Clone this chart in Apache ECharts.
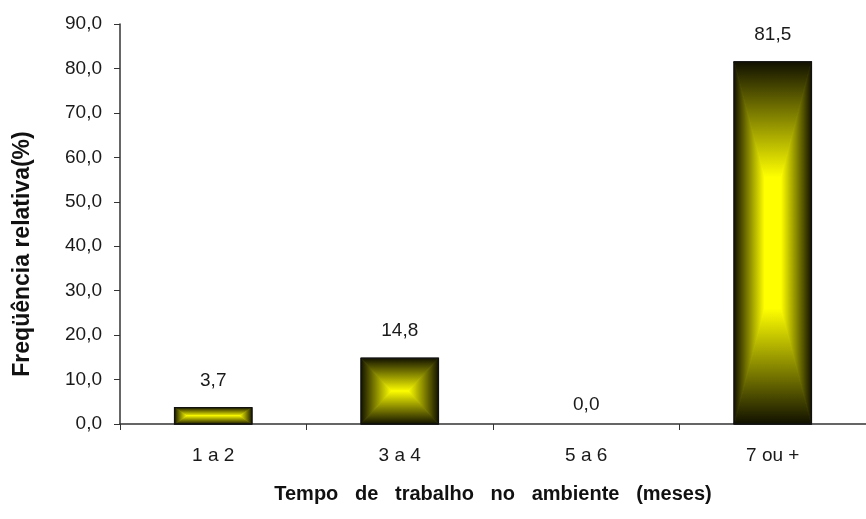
<!DOCTYPE html>
<html>
<head>
<meta charset="utf-8">
<script src="https://cdn.jsdelivr.net/npm/echarts@6/dist/echarts.min.js"></script>
<style>
  html, body { margin: 0; padding: 0; background: #fff; }
  #chart { width: 866px; height: 519px; }
</style>
</head>
<body>
<div id="chart"></div>
<script>
// Relative frequency by time working in the environment
const categories = ['1 a 2', '3 a 4', '5 a 6', '7 ou +'];
const frequencies = [3.7, 14.8, 0.0, 81.5];
const yTicks = { min: 0, max: 90, interval: 10 };

const EDGE = '#101000';
const CENTER = '#ffff00';

function fmt(v) {
  return v.toFixed(1).replace('.', ',');
}

function ramp(x, y, x2, y2) {
  return {
    type: 'linear', x: x, y: y, x2: x2, y2: y2,
    colorStops: [{ offset: 0, color: EDGE }, { offset: 1, color: CENTER }]
  };
}

function piece(points, fill) {
  return {
    type: 'polygon',
    shape: { points: points },
    style: { fill: fill, stroke: fill, lineWidth: 1 }
  };
}

// Bar shaded from dark edges towards a bright yellow core
function renderBar(params, api) {
  const idx = api.value(0);
  const val = api.value(1);
  const top = api.coord([idx, val]);
  const base = api.coord([idx, 0]);
  const band = api.size([1, 0])[0];
  const w = band * 0.415;
  const x0 = top[0] - w / 2, x1 = top[0] + w / 2;
  const y0 = top[1], y1 = base[1];
  const h = y1 - y0;
  const cx = top[0];
  const children = [];
  if (h > 0.5) {
    const r = Math.min(h / 2, 115);
    const s = Math.min(Math.max(h / 2, 12), 30);
    const ix0 = x0 + s, ix1 = x1 - s, iy0 = y0 + r, iy1 = y1 - r;
    children.push(
      { type: 'rect', shape: { x: ix0 - 1, y: iy0 - 1, width: ix1 - ix0 + 2, height: iy1 - iy0 + 2 },
        style: { fill: CENTER } },
      piece([[x0, y0], [x1, y0], [ix1, iy0], [ix0, iy0]], ramp(0, 0, 0, 1)),
      piece([[x0, y1], [x1, y1], [ix1, iy1], [ix0, iy1]], ramp(0, 1, 0, 0)),
      piece([[x0, y0], [ix0, iy0], [ix0, iy1], [x0, y1]], ramp(0, 0, 1, 0)),
      piece([[x1, y0], [ix1, iy0], [ix1, iy1], [x1, y1]], ramp(1, 0, 0, 0)),
      { type: 'rect', shape: { x: x0, y: y0, width: w, height: h },
        style: { fill: 'none', stroke: '#111', lineWidth: 1.3 } }
    );
  }
  children.push({
    type: 'text',
    style: {
      x: cx, y: y0 - (val > 0 ? 27 : 19),
      text: fmt(val),
      align: 'center', verticalAlign: 'middle',
      fill: '#1a1a1a', font: '19px "Liberation Sans", Arial, sans-serif'
    }
  });
  return { type: 'group', children: children };
}

const chart = echarts.init(document.getElementById('chart'), null, { renderer: 'canvas' });
chart.setOption({
  animation: false,
  backgroundColor: '#fff',
  textStyle: { fontFamily: '"Liberation Sans", Arial, sans-serif' },
  grid: { left: 120, top: 24, width: 752, height: 400 },
  xAxis: {
    type: 'category',
    data: categories,
    boundaryGap: true,
    name: 'Tempo   de   trabalho   no   ambiente   (meses)',
    nameLocation: 'middle',
    nameGap: 60,
    nameTextStyle: { fontSize: 20, fontWeight: 'bold', color: '#111' },
    axisLine: { lineStyle: { color: '#333', width: 1.5 } },
    axisTick: { show: true, alignWithLabel: false, length: 6, lineStyle: { color: '#333' } },
    axisLabel: { color: '#1a1a1a', fontSize: 19, margin: 22 },
    splitLine: { show: false }
  },
  yAxis: {
    type: 'value',
    min: yTicks.min, max: yTicks.max, interval: yTicks.interval,
    name: 'Freqüência relativa(%)',
    nameLocation: 'middle',
    nameGap: 86,
    nameRotate: 90,
    nameTextStyle: { fontSize: 23, fontWeight: 'bold', color: '#111', padding: [0, 60, 0, 0] },
    axisLine: { show: true, lineStyle: { color: '#333', width: 1.5 } },
    axisTick: { show: true, length: 6, lineStyle: { color: '#333' } },
    axisLabel: { color: '#1a1a1a', fontSize: 19, margin: 18, formatter: v => fmt(v) },
    splitLine: { show: false }
  },
  series: [{
    type: 'custom',
    renderItem: renderBar,
    data: frequencies.map((v, i) => [i, v]),
    encode: { x: 0, y: 1 },
    clip: false
  }]
});
</script>
</body>
</html>
